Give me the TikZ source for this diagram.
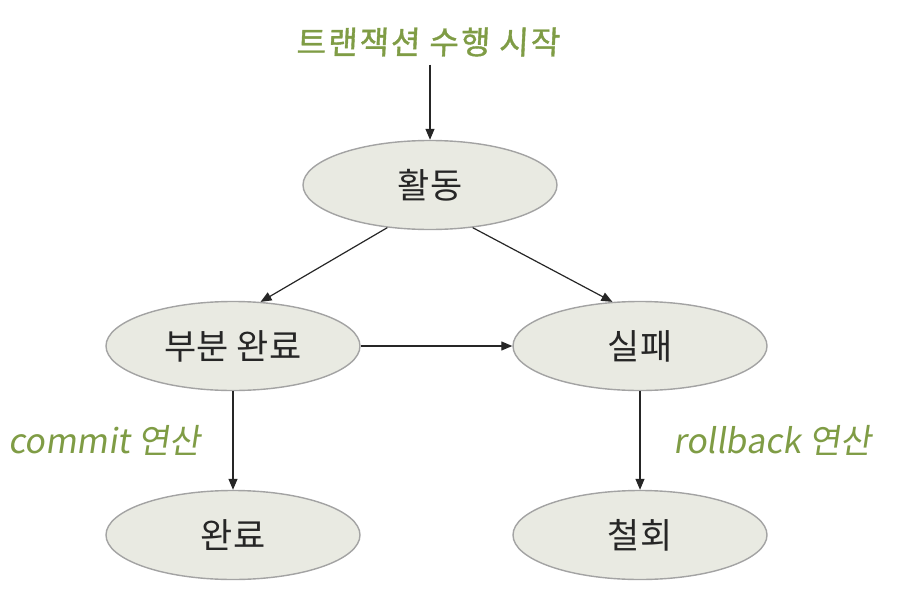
\documentclass[tikz,border=0pt]{standalone}
\usepackage{fontspec}
\newfontfamily\kr{Noto Sans CJK KR}
\newfontfamily\krsl[FakeSlant=0.15]{Noto Sans CJK KR}
\newfontfamily\krtop[FakeSlant=0.05,FakeBold=1.2,LetterSpace=6]{Noto Sans CJK KR}
\usetikzlibrary{shapes.geometric,arrows.meta}
\definecolor{lbl}{HTML}{7F9C45}
\definecolor{fillc}{HTML}{E9EAE2}
\definecolor{edgec}{HTML}{A3A3A3}
\tikzset{
  state/.style={ellipse, draw=edgec, line width=1.4pt, fill=fillc, minimum width=254pt, minimum height=89pt, inner sep=0pt, font=\kr\fontsize{35}{40}\selectfont, text=black!85},
  lab/.style={text=lbl, font=\krsl\fontsize{34}{40}\selectfont, inner sep=0pt},
  toplab/.style={text=lbl, font=\krtop\fontsize{32}{38}\selectfont, inner sep=0pt},
  conn/.style={line width=1.2pt, draw=black!85, -{Triangle[length=11pt,width=9pt]}}
}
\begin{document}
\begin{tikzpicture}[x=1pt,y=-1pt]
\useasboundingbox (0,0) rectangle (899,602);
\node[toplab] (start) at (428,42) {트랜잭션 수행 시작};
\node[state] (act) at (430,185) {활동};
\node[state] (part) at (233,346) {부분 완료};
\node[state] (fail) at (640,346) {실패};
\node[state] (done) at (233,535) {완료};
\node[state] (abort) at (640,535) {철회};
\node[lab, anchor=west] (commit) at (8,440) {commit 연산};
\node[lab, anchor=west] (rollback) at (673,440) {rollback 연산};
\draw[conn] (start.south -| act.north) ++(0,8) coordinate (s0) (s0) -- (act.north);
\draw[conn] (act.225) -- (part.58);
\draw[conn] (act.315) -- (fail.122);
\draw[conn] (part.east) -- (fail.west);
\draw[conn] (part.south) -- (done.north);
\draw[conn] (fail.south) -- (abort.north);
\end{tikzpicture}
\end{document}
